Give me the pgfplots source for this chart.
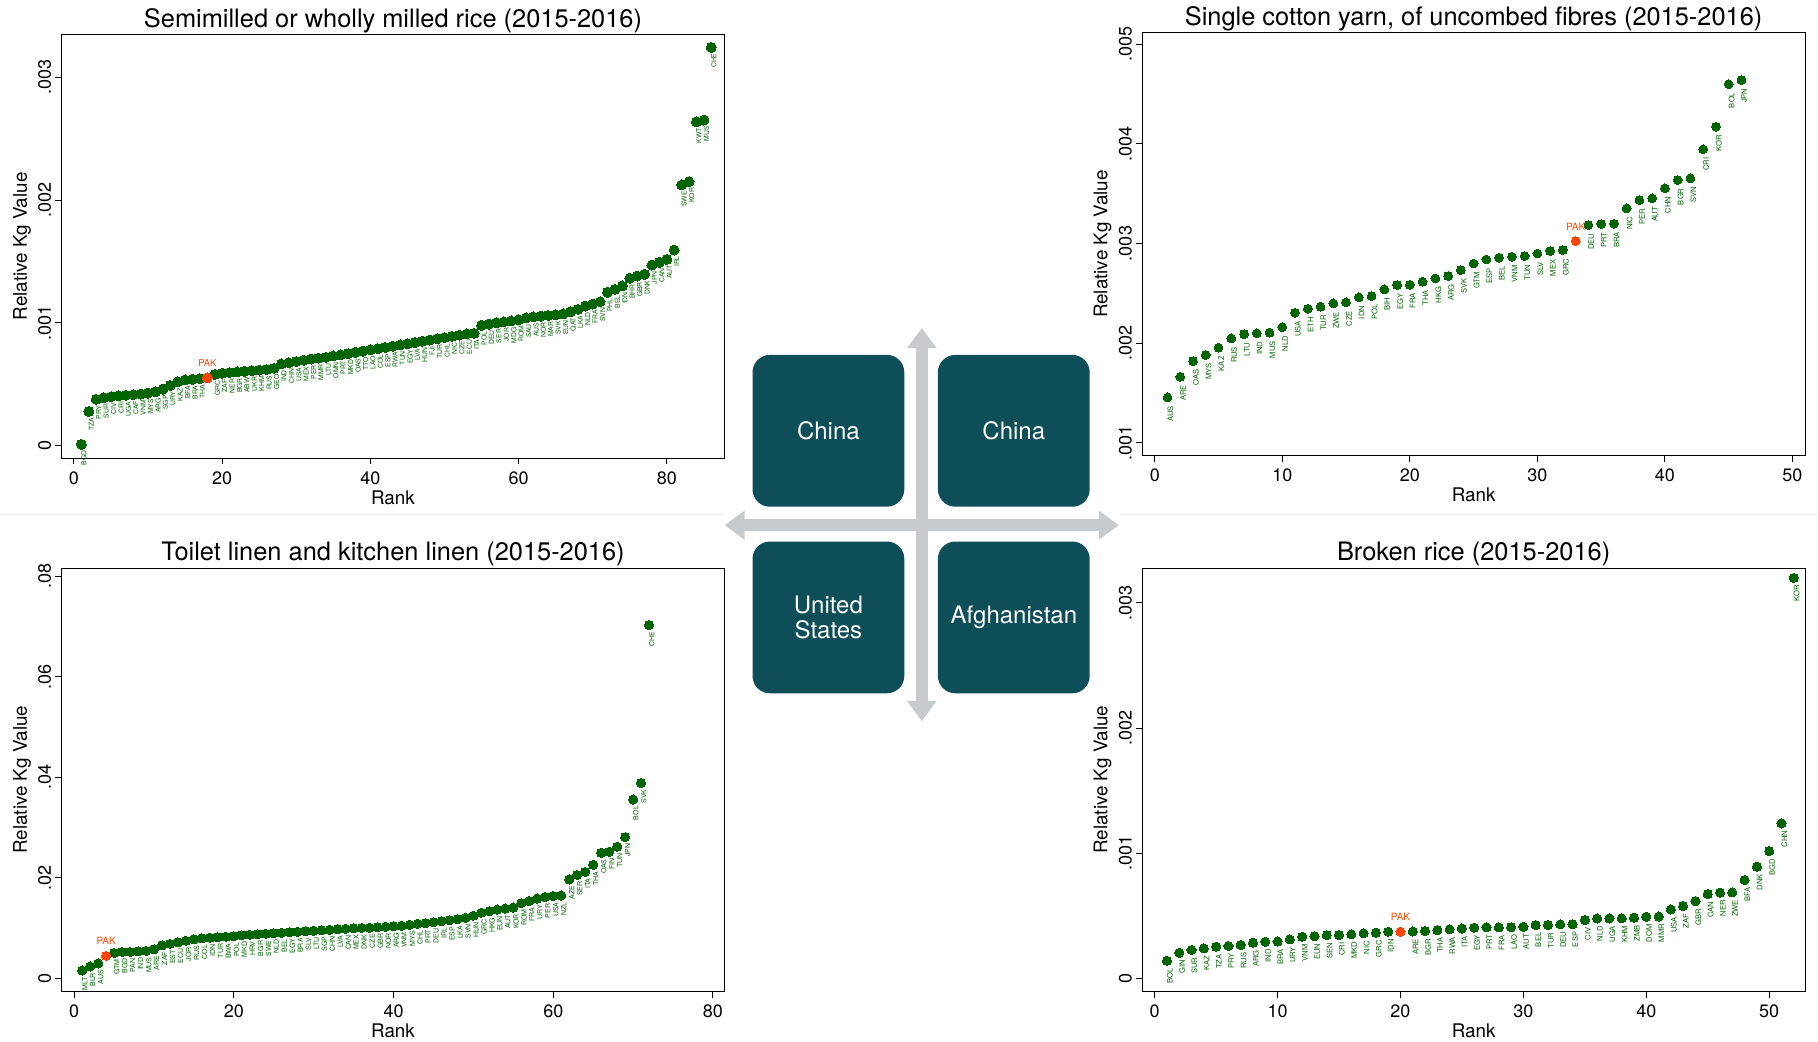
\documentclass[border=0pt]{standalone}
\usepackage{fontspec}
\setmainfont{TeX Gyre Heros}
\usepackage{pgfplots}
\pgfplotsset{compat=1.18}
\usepackage{pgfplotstable}
\usetikzlibrary{arrows.meta}

\definecolor{dkg}{RGB}{0,100,0}
\definecolor{pako}{RGB}{255,69,0}
\definecolor{boxc}{RGB}{14,78,88}
\definecolor{arrc}{RGB}{200,203,206}

\pgfplotstableread{
r v c
1 0.00001 BGD
2 0.000279 TZA
3 0.000377 PRY
4 0.00039 SUR
5 0.000398 CIV
6 0.000405 CRI
7 0.00041 UGA
8 0.000415 CAF
9 0.00042 VNM
10 0.000428 MYS
11 0.000438 ARG
12 0.00046 SGP
13 0.00049 URY
14 0.00052 KAZ
15 0.000535 BFA
16 0.00054 BRA
17 0.000545 THA
19 0.00058 GRC
20 0.00059 ZAF
21 0.000595 NER
22 0.0006 BGR
23 0.000605 ABW
24 0.00061 UKR
25 0.000615 KHM
26 0.00062 RUS
27 0.00063 GEO
28 0.000665 IND
29 0.000675 CHN
30 0.000685 USA
31 0.000695 MEX
32 0.000705 PER
33 0.000712 MMR
34 0.00072 LTU
35 0.00073 OMN
36 0.00074 PRT
37 0.00075 MKD
38 0.00076 OAS
39 0.00077 TTO
40 0.00078 LAO
41 0.00079 COL
42 0.0008 ESP
43 0.00081 RWA
44 0.00082 TUN
45 0.00083 EGY
46 0.00084 LVA
47 0.00085 HUN
48 0.00086 FJI
49 0.00087 TUR
50 0.00088 CHL
51 0.00089 NIC
52 0.0009 CZE
53 0.00091 ECU
54 0.000915 ITA
55 0.00098 POL
56 0.00099 DEU
57 0.001 SER
58 0.001008 JOR
59 0.001015 MDG
60 0.001025 ROM
61 0.00104 SAU
62 0.001048 AUS
63 0.001055 NOR
64 0.00106 MAR
65 0.001065 SVK
66 0.001072 EUN
67 0.001091 QAT
68 0.00111 LKA
69 0.001137 NLD
70 0.001153 FRA
71 0.001172 SVN
72 0.001249 PHL
73 0.001273 BEL
74 0.0013 IDN
75 0.001363 BHR
76 0.001381 GBR
77 0.001395 DNK
78 0.001471 JPN
79 0.001493 CAN
80 0.001517 AUT
81 0.001593 IRL
82 0.002123 SWE
83 0.00215 KOR
84 0.002638 KWT
85 0.002652 MUS
86 0.003244 CHE
}\tldata

\pgfplotstableread{
r v c
1 0.001457 AUS
2 0.001664 ARE
3 0.001821 OAS
4 0.001882 MYS
5 0.001955 KAZ
6 0.002049 RUS
7 0.002092 LTU
8 0.0021 IND
9 0.002105 MUS
10 0.00216 NLD
11 0.002306 USA
12 0.002346 ETH
13 0.002366 TUR
14 0.0024 ZWE
15 0.00241 CZE
16 0.00246 IDN
17 0.002473 POL
18 0.00254 BIH
19 0.002584 EGY
20 0.002586 FRA
21 0.002617 THA
22 0.00265 HKG
23 0.002674 ARG
24 0.002734 SVK
25 0.0028 GTM
26 0.00284 ESP
27 0.002858 BEL
28 0.002868 VNM
29 0.002875 TUN
30 0.0029 SLV
31 0.002925 MEX
32 0.002935 GRC
34 0.003186 DEU
35 0.003196 PRT
36 0.003198 BRA
37 0.003353 NIC
38 0.003436 PER
39 0.003453 AUT
40 0.003554 CHN
41 0.003637 BGR
42 0.003654 SVN
43 0.003945 CRI
44 0.004172 KOR
45 0.004597 BOL
46 0.00464 JPN
}\trdata

\pgfplotstableread{
r v c
1 0.0016 MLT
2 0.0024 BLR
3 0.0030 AUS
5 0.0051 GTM
6 0.0053 BGD
7 0.0053 PAN
8 0.0054 IND
9 0.0055 MUS
10 0.0058 ARE
11 0.0066 ZAF
12 0.0069 EST
13 0.0072 ECU
14 0.0075 JOR
15 0.0078 RUS
16 0.0080 COL
17 0.0081 IDN
18 0.0082 TUR
19 0.0083 BWA
20 0.0084 POL
21 0.0086 MKD
22 0.0087 HRV
23 0.0088 BGR
24 0.0089 SWE
25 0.0090 NLD
26 0.0091 BEL
27 0.0092 EGY
28 0.0093 BRA
29 0.0094 SLV
30 0.0095 LTU
31 0.0096 SGP
32 0.0097 CHN
33 0.0098 LVA
34 0.0099 CAN
35 0.0100 MEX
36 0.01005 DNK
37 0.0101 CZE
38 0.0102 GBR
39 0.0103 NOR
40 0.0104 ARG
41 0.0105 VNM
42 0.0107 MYS
43 0.0109 CHL
44 0.0110 PRT
45 0.0112 DEU
46 0.0114 IRL
47 0.0116 ESP
48 0.0118 LKA
49 0.0121 SVN
50 0.0125 HUN
51 0.0131 GRC
52 0.0134 HKG
53 0.0137 EUN
54 0.0139 AUT
55 0.0141 KOR
56 0.0150 ROM
57 0.0154 FRA
58 0.0159 URY
59 0.0162 PER
60 0.0164 USA
61 0.0165 NZL
62 0.0197 AZE
63 0.0206 SER
64 0.0212 ITA
65 0.0226 THA
66 0.0250 OAS
67 0.0252 FIN
68 0.0262 TUN
69 0.0281 JPN
70 0.0356 BOL
71 0.0389 SVK
72 0.0703 CHE
}\bldata

\pgfplotstableread{
r v c
1 0.000142 BOL
2 0.000206 GIN
3 0.000228 SUR
4 0.000241 KAZ
5 0.000254 TZA
6 0.00026 PRY
7 0.000268 RUS
8 0.000286 ARG
9 0.000294 IND
10 0.000296 BRA
11 0.000313 URY
12 0.000334 VNM
13 0.000339 EUN
14 0.000347 SEN
15 0.000348 CRI
16 0.000353 MKD
17 0.000361 NIC
18 0.000366 GRC
19 0.000374 IDN
21 0.000376 ARE
22 0.000379 BGR
23 0.000387 THA
24 0.000393 RWA
25 0.0004 ITA
26 0.000406 EGY
27 0.000409 PRT
28 0.000409 FRA
29 0.00041 LAO
30 0.000414 AUT
31 0.000427 BEL
32 0.000428 TUR
33 0.000433 DEU
34 0.000434 ESP
35 0.000467 CIV
36 0.00048 NLD
37 0.00048 UGA
38 0.000481 KHM
39 0.000486 ZMB
40 0.000494 DOM
41 0.000495 MMR
42 0.000552 USA
43 0.000579 ZAF
44 0.000619 GBR
45 0.000675 CAN
46 0.000686 NER
47 0.000688 ZWE
48 0.000787 BFA
49 0.000893 DNK
50 0.001018 BGD
51 0.001239 CHN
52 0.0032 KOR
}\brdata

\pgfplotsset{
  panel/.style={
    scale only axis, width=331.6pt, height=211.6pt,
    clip=false,
    axis line style={black, line width=0.5pt},
    xtick pos=bottom, ytick pos=left, tick align=outside,
    major tick length=3.2pt, minor tick num=0,
    tick style={black, line width=0.5pt},
    scaled ticks=false,
    xlabel={Rank}, ylabel={Relative Kg Value},
    title style={font=\fontsize{12.7}{14}\selectfont, at={(axis description cs:0.5,1)}, anchor=base, yshift=-2.3pt},
    xlabel style={font=\fontsize{9.4}{10}\selectfont, at={([yshift=-23pt]axis description cs:0.5,0)}, anchor=base},
    ylabel style={font=\fontsize{9.4}{10}\selectfont, at={([xshift=-17.3pt]axis description cs:0,0.5)}, anchor=base},
    xticklabel style={font=\fontsize{9}{10}\selectfont, anchor=base, yshift=-9.8pt},
    yticklabel style={font=\fontsize{9}{10}\selectfont, rotate=90, anchor=south, inner xsep=0pt, inner ysep=1.7pt},
  },
  gpts/.style={only marks, mark=*, color=dkg, mark options={fill=dkg, draw=dkg, line width=0pt},
    nodes near coords, point meta=explicit symbolic,
    nodes near coords style={text=dkg, anchor=north east, rotate=90, inner ysep=0pt}},
  pakpt/.style={only marks, mark=*, color=pako, mark options={fill=pako, draw=pako, line width=0pt},
    nodes near coords, point meta=explicit symbolic,
    nodes near coords style={text=pako, anchor=south, inner xsep=0pt, inner ysep=5.5pt, font=\fontsize{5}{6}\selectfont}},
}

\begin{document}
\begin{tikzpicture}
\path[use as bounding box] (0,0) rectangle (909pt,520.5pt);
\draw[black!8, line width=0.6pt] (0,263.1pt) -- (362pt,263.1pt);
\draw[black!8, line width=0.6pt] (560pt,263.1pt) -- (909pt,263.1pt);

% top left
\begin{axis}[panel, at={(30.7pt,291.5pt)}, anchor=south west,
  xmin=-1.7, xmax=87.8, ymin=-0.000101, ymax=0.003346,
  xtick={0,20,40,60,80}, xticklabels={0,20,40,60,80},
  ytick={0,0.001,0.002,0.003}, yticklabels={0,.001,.002,.003},
  title={Semimilled or wholly milled rice (2015-2016)}]
\addplot[gpts, mark size=2.5pt, nodes near coords style={font=\fontsize{3.4}{4}\selectfont, inner xsep=3.1pt}] table[x=r, y=v, meta=c] {\tldata};
\addplot[pakpt, mark size=2.5pt, nodes near coords style={font=\fontsize{4.7}{5}\selectfont}] coordinates {(18,0.000553) [PAK]};
\end{axis}

% top right
\begin{axis}[panel, at={(571pt,292.7pt)}, anchor=south west,
  xmin=-1.0, xmax=51.0, ymin=0.000873, ymax=0.005117,
  xtick={0,10,20,30,40,50}, xticklabels={0,10,20,30,40,50},
  ytick={0.001,0.002,0.003,0.004,0.005}, yticklabels={.001,.002,.003,.004,.005},
  title={Single cotton yarn, of uncombed fibres (2015-2016)}]
\addplot[gpts, mark size=2.2pt, nodes near coords style={font=\fontsize{3.8}{4}\selectfont, inner xsep=4.3pt}] table[x=r, y=v, meta=c] {\trdata};
\addplot[pakpt, mark size=2.2pt] coordinates {(33,0.003025) [PAK]};
\end{axis}

% bottom left
\begin{axis}[panel, at={(30.7pt,24.85pt)}, anchor=south west,
  xmin=-1.6, xmax=81.46, ymin=-0.00255, ymax=0.0816,
  xtick={0,20,40,60,80}, xticklabels={0,20,40,60,80},
  ytick={0,0.02,0.04,0.06,0.08}, yticklabels={0,.02,.04,.06,.08},
  title={Toilet linen and kitchen linen (2015-2016)}]
\addplot[gpts, mark size=2.3pt, nodes near coords style={font=\fontsize{3.5}{4}\selectfont, inner xsep=3.3pt}] table[x=r, y=v, meta=c] {\bldata};
\addplot[pakpt, mark size=2.3pt] coordinates {(4,0.0045) [PAK]};
\end{axis}

% bottom right
\begin{axis}[panel, at={(571pt,24.85pt)}, anchor=south west,
  xmin=-1.03, xmax=52.93, ymin=-0.000102, ymax=0.003278,
  xtick={0,10,20,30,40,50}, xticklabels={0,10,20,30,40,50},
  ytick={0,0.001,0.002,0.003}, yticklabels={0,.001,.002,.003},
  title={Broken rice (2015-2016)}]
\addplot[gpts, mark size=2.3pt, nodes near coords style={font=\fontsize{3.8}{4}\selectfont, inner xsep=3.8pt}] table[x=r, y=v, meta=c] {\brdata};
\addplot[pakpt, mark size=2.3pt] coordinates {(20,0.000374) [PAK]};
\end{axis}

% central diagram
\draw[arrc, line width=5.8pt, {Triangle[width=14pt,length=10pt]}-{Triangle[width=14pt,length=10pt]}] (362.3pt,257.9pt) -- (559.4pt,257.9pt);
\draw[arrc, line width=5.8pt, {Triangle[width=14pt,length=10pt]}-{Triangle[width=14pt,length=10pt]}] (460.9pt,356.5pt) -- (460.9pt,159.9pt);
\tikzset{cbox/.style={fill=boxc, rounded corners=8.7pt, minimum width=75.9pt, minimum height=75.9pt, inner sep=0pt, text=white, align=center, font=\fontsize{12}{12.2}\selectfont}}
\node[cbox] at (414.2pt,305.1pt) {China};
\node[cbox] at (506.9pt,305.1pt) {China};
\node[cbox] at (414.2pt,211.8pt) {United\\States};
\node[cbox] at (506.9pt,211.8pt) {Afghanistan};
\end{tikzpicture}
\end{document}
